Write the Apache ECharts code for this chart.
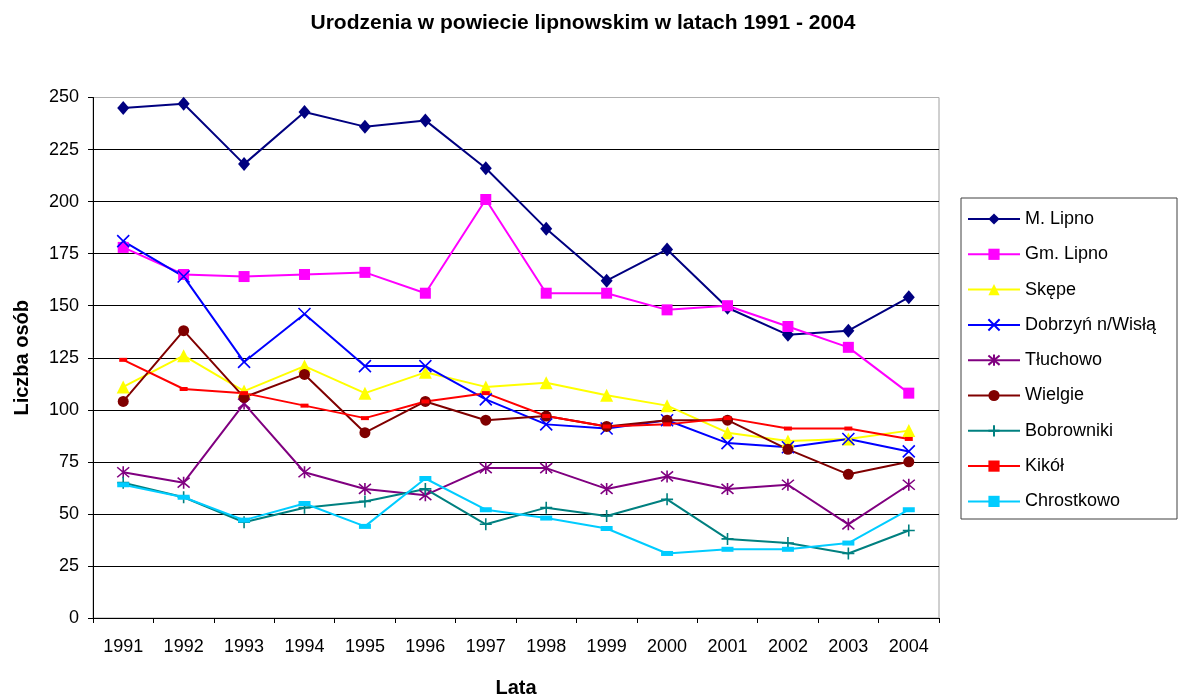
<!DOCTYPE html>
<html>
<head>
<meta charset="utf-8">
<script src="https://cdn.jsdelivr.net/npm/echarts@6/dist/echarts.min.js"></script>
<style>
html,body{margin:0;padding:0;background:#fff;}
#c{width:1178px;height:696px;}
</style>
</head>
<body>
<div id="c"></div>
<script>
var years = ['1991','1992','1993','1994','1995','1996','1997','1998','1999','2000','2001','2002','2003','2004'];
var mLipno     = [245,247,218,243,236,239,216,187,162,177,149,136,138,154];
var gmLipno    = [178,165,164,165,166,156,201,156,156,148,150,140,130,108];
var skepe      = [111,126,109,121,108,118,111,113,107,102,89,85,86,90];
var dobrzyn    = [181,164,123,146,121,121,105,93,91,95,84,82,86,80];
var tluchowo   = [70,65,103,70,62,59,72,72,62,68,62,64,45,64];
var wielgie    = [104,138,106,117,89,104,95,97,92,95,95,81,69,75];
var bobrowniki = [65,58,46,53,56,62,45,53,49,57,38,36,31,42];
var kikol      = [124,110,108,102,96,104,108,97,92,93,96,91,91,86];
var chrostkowo = [64,58,47,55,44,67,52,48,43,31,33,33,36,52];
var yTicks = [0,25,50,75,100,125,150,175,200,225,250];

var FONT = '"Liberation Sans", Arial, sans-serif';

function mk(name, data, color, symbol, size, stroke) {
  return {
    name: name, type: 'line', data: data,
    symbol: symbol, symbolSize: size,
    lineStyle: {color: color, width: 2},
    itemStyle: {color: color, borderColor: color, borderWidth: stroke || 0},
    emphasis: {disabled: true},
    z: 3
  };
}

var chart = echarts.init(document.getElementById('c'), null, {renderer: 'canvas'});
chart.setOption({
  animation: false,
  backgroundColor: '#fff',
  textStyle: {fontFamily: FONT},
  title: {
    text: 'Urodzenia w powiecie lipnowskim w latach 1991 - 2004',
    left: 583, top: 13, textAlign: 'center', padding: 0,
    textStyle: {fontFamily: FONT, fontSize: 21, fontWeight: 'bold', color: '#000'}
  },
  grid: {left: 93, right: 239, top: 97.5, bottom: 78, show: true, borderColor: '#a0a0a0', borderWidth: 1, backgroundColor: 'transparent', outerBoundsMode: 'none', containLabel: false},
  legend: {
    orient: 'vertical', left: 967, top: 210, padding: 0,
    itemWidth: 52, itemHeight: 14, itemGap: 17.3,
    textStyle: {fontFamily: FONT, fontSize: 18, color: '#000', lineHeight: 14},
    data: ['M. Lipno','Gm. Lipno','Skępe','Dobrzyń n/Wisłą','Tłuchowo','Wielgie','Bobrowniki','Kikół','Chrostkowo']
  },
  graphic: [{
    type: 'rect', shape: {x: 961, y: 198, width: 216, height: 321},
    style: {fill: 'none', stroke: '#404040', lineWidth: 1}, z: 0
  }],
  xAxis: {
    type: 'category', data: years, boundaryGap: true,
    name: 'Lata', nameLocation: 'middle', nameGap: 60,
    nameTextStyle: {fontFamily: FONT, fontSize: 20, fontWeight: 'bold', color: '#000'},
    axisLine: {lineStyle: {color: '#000', width: 1}},
    axisTick: {show: true, length: 5, lineStyle: {color: '#000'}},
    axisLabel: {fontFamily: FONT, fontSize: 18, color: '#000', margin: 20, interval: 0},
    splitLine: {show: false}
  },
  yAxis: {
    type: 'value', min: yTicks[0], max: yTicks[yTicks.length-1], interval: 25,
    name: 'Liczba osób', nameLocation: 'middle', nameGap: 61, nameRotate: 90,
    nameTextStyle: {fontFamily: FONT, fontSize: 20, fontWeight: 'bold', color: '#000'},
    axisLine: {show: true, lineStyle: {color: '#000', width: 1}},
    axisTick: {show: true, length: 5, lineStyle: {color: '#000'}},
    axisLabel: {fontFamily: FONT, fontSize: 18, color: '#000', margin: 14},
    splitLine: {show: true, lineStyle: {color: ['#000','#000','#000','#000','#000','#000','#000','#000','#000','#000','#b0b0b0'], width: 1}}
  },
  series: [
    mk('M. Lipno', mLipno, '#000080', 'diamond', [12,14]),
    mk('Gm. Lipno', gmLipno, '#FF00FF', 'rect', 11),
    mk('Skępe', skepe, '#FFFF00', 'triangle', 13),
    mk('Dobrzyń n/Wisłą', dobrzyn, '#0000FF', 'path://M0,0L10,10M10,0L0,10', 12, 1.6),
    mk('Tłuchowo', tluchowo, '#800080', 'path://M0,0L10,10M10,0L0,10M5,-1L5,11', 12, 1.6),
    mk('Wielgie', wielgie, '#800000', 'circle', 11),
    mk('Bobrowniki', bobrowniki, '#008080', 'path://M5,0L5,10M0,5L10,5', 12, 1.6),
    mk('Kikół', kikol, '#FF0000', 'path://M0,0h2v1h-2z', [8,4]),
    mk('Chrostkowo', chrostkowo, '#00CCFF', 'path://M0,0h12v5h-12z', [12,5])
  ]
});
</script>
</body>
</html>
